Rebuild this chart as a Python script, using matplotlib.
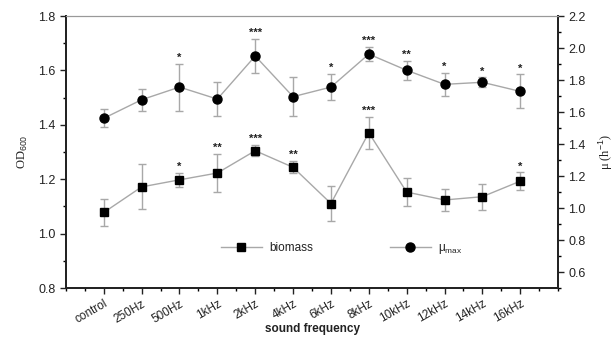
import matplotlib
matplotlib.use("Agg")
import matplotlib.pyplot as plt
from matplotlib.ticker import MultipleLocator, FixedLocator
from matplotlib.lines import Line2D
import numpy as np

categories = ["control", "250Hz", "500Hz", "1kHz", "2kHz", "4kHz", "6kHz",
              "8kHz", "10kHz", "12kHz", "14kHz", "16kHz"]
biomass = [1.078, 1.172, 1.198, 1.223, 1.305, 1.244, 1.111, 1.371, 1.153, 1.124, 1.136, 1.193]
biomass_err = [0.050, 0.083, 0.025, 0.070, 0.020, 0.022, 0.063, 0.058, 0.050, 0.040, 0.048, 0.032]
biomass_sig = ["", "", "*", "**", "***", "**", "", "***", "", "", "", "*"]
mumax = [1.561, 1.677, 1.756, 1.681, 1.950, 1.696, 1.756, 1.962, 1.861, 1.773, 1.786, 1.729]
mumax_err = [0.055, 0.070, 0.147, 0.105, 0.105, 0.123, 0.083, 0.045, 0.060, 0.072, 0.031, 0.106]
mumax_sig = ["", "", "*", "", "***", "", "*", "***", "**", "*", "*", "*"]

plt.rcParams['font.family'] = ['Liberation Sans', 'DejaVu Sans']
plt.rcParams['mathtext.fontset'] = 'custom'
plt.rcParams['mathtext.rm'] = 'Liberation Sans'

fig = plt.figure(figsize=(6.16, 3.37), dpi=100)
ax = fig.add_axes([0.107, 0.145, 0.799, 0.8075])
ax2 = ax.twinx()

x = np.arange(len(categories))
gray = "#a8a8a8"

ax.errorbar(x, biomass, yerr=biomass_err, color=gray, lw=1.0, ecolor=gray,
            elinewidth=1.0, capsize=3, capthick=1.0, marker="s", ms=5.5,
            mfc="black", mec="black", zorder=3)
ax2.errorbar(x, mumax, yerr=mumax_err, color=gray, lw=1.0, ecolor=gray,
             elinewidth=1.0, capsize=3, capthick=1.0, marker="o", ms=6.5,
             mfc="black", mec="black", zorder=3)

for xi, v, e, s in zip(x, biomass, biomass_err, biomass_sig):
    if s:
        ax.text(xi, v + e + 0.004, s, ha="center", va="bottom", fontsize=8,
                color="#222222", fontweight="bold")
for xi, v, e, s in zip(x, mumax, mumax_err, mumax_sig):
    if s:
        ax2.text(xi, v + e + 0.006, s, ha="center", va="bottom", fontsize=8,
                 color="#222222", fontweight="bold")

ax.set_xlim(-1, 12)
ax.set_ylim(0.8, 1.8)
ax2.set_ylim(0.5, 2.2)

ax.set_xticks(x)
ax.set_xticklabels(categories, rotation=30, ha="right", rotation_mode="anchor",
                   fontsize=8.5, color="#222222")
ax.xaxis.set_minor_locator(FixedLocator(np.arange(-1, 12.01, 0.5)))
ax.yaxis.set_major_locator(MultipleLocator(0.2))
ax.yaxis.set_minor_locator(MultipleLocator(0.1))
ax2.yaxis.set_major_locator(FixedLocator([0.6, 0.8, 1.0, 1.2, 1.4, 1.6, 1.8, 2.0, 2.2]))
ax2.yaxis.set_minor_locator(MultipleLocator(0.1))
ax.set_yticklabels([f"{v:.1f}" for v in ax.get_yticks()])

for a in (ax, ax2):
    a.tick_params(axis="both", which="major", direction="out", length=4, width=1.0,
                  labelsize=9, colors="#222222")
    a.tick_params(axis="both", which="minor", direction="out", length=2.5, width=1.0)
ax.tick_params(axis="x", which="major", labelsize=8.5, pad=3)

for a in (ax, ax2):
    a.spines["left"].set_linewidth(1.3)
    a.spines["bottom"].set_linewidth(1.3)
    a.spines["right"].set_linewidth(1.3)
    a.spines["top"].set_linewidth(0.8)
    a.spines["top"].set_color("#999999")
    for k in ("left", "bottom", "right"):
        a.spines[k].set_color("#222222")

ax.set_xlabel("sound frequency", fontsize=8.5, fontweight="bold", color="#222222", labelpad=-2)
ax.set_ylabel("OD$_{600}$", fontsize=9, family="Liberation Serif", color="#222222", labelpad=6)
ax2.set_ylabel("μ (h$^{-1}$)", fontsize=9, family="Liberation Serif", color="#222222", labelpad=8)

hb = Line2D([], [], color=gray, lw=1.0, marker="s", ms=5.5, mfc="black", mec="black")
hm = Line2D([], [], color=gray, lw=1.0, marker="o", ms=6.5, mfc="black", mec="black")
leg = ax.legend([hb, hm], ["biomass", "μ$_{\\mathregular{max}}$"], loc="lower center",
                bbox_to_anchor=(0.56, 0.08), ncol=2, frameon=False, fontsize=8.5,
                columnspacing=6.5, handlelength=3.5, handletextpad=0.6)
for t in leg.get_texts():
    t.set_color("#222222")

fig.savefig("out.png", dpi=100)
